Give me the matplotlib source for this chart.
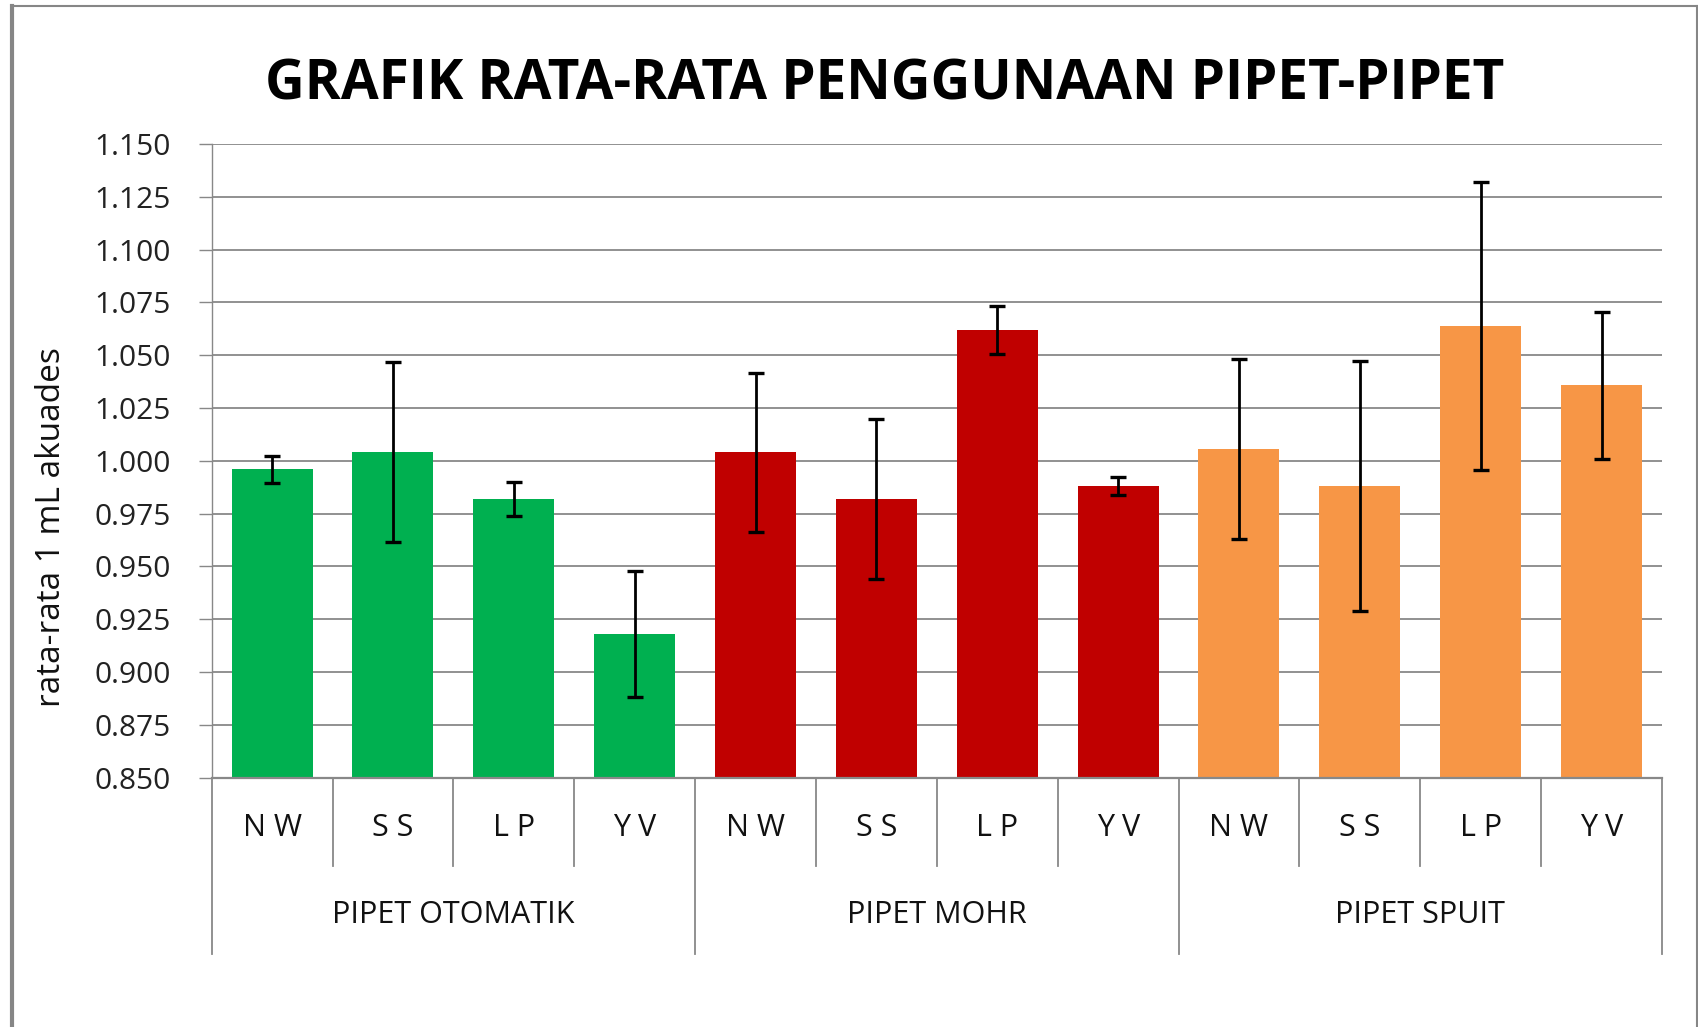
import matplotlib
matplotlib.use('Agg')
import matplotlib.pyplot as plt
from matplotlib.lines import Line2D
import numpy as np

groups = ['PIPET OTOMATIK', 'PIPET MOHR', 'PIPET SPUIT']
names = ['N W', 'S S', 'L P', 'Y V']
colors = ['#00B050', '#C00000', '#F79646']

otomatik = [0.996, 1.004, 0.982, 0.918]
otomatik_err = [0.0063, 0.0426, 0.008, 0.030]
mohr = [1.004, 0.982, 1.062, 0.988]
mohr_err = [0.0378, 0.038, 0.0114, 0.0042]
spuit = [1.0057, 0.988, 1.0638, 1.0359]
spuit_err = [0.0425, 0.0593, 0.068, 0.0348]

yticks = [0.850, 0.875, 0.900, 0.925, 0.950, 0.975, 1.000,
          1.025, 1.050, 1.075, 1.100, 1.125, 1.150]

plt.rcParams['font.family'] = ['Open Sans', 'DejaVu Sans']

fig = plt.figure(figsize=(16.99, 10.27), dpi=100)
ax = fig.add_axes([0.1246, 0.2427, 0.8536, 0.6171])

values = [otomatik, mohr, spuit]
errors = [otomatik_err, mohr_err, spuit_err]
n = len(names)
for g in range(len(groups)):
    x = np.arange(n) + g * n
    ax.bar(x, values[g], width=0.67, color=colors[g], zorder=2)
    ax.errorbar(x, values[g], yerr=errors[g], fmt='none', ecolor='black',
                elinewidth=2.0, capsize=5.5, capthick=2.4, zorder=3)

ax.set_xlim(-0.5, len(groups) * n - 0.5)
ax.set_ylim(0.850, 1.150)
ax.set_yticks(yticks)
ax.set_yticklabels(['%.3f' % t for t in yticks], fontsize=21.5, color='#222222')
ax.yaxis.grid(True, color='#888888', linewidth=1.3, zorder=0)
ax.set_axisbelow(True)
ax.tick_params(axis='y', direction='out', length=9.5, width=1.0, color='#888888', pad=20)
ax.tick_params(axis='x', bottom=False, labelbottom=False)

for s in ['top', 'right']:
    ax.spines[s].set_visible(False)
ax.spines['left'].set_color('#888888')
ax.spines['left'].set_linewidth(1.0)
ax.spines['bottom'].set_color('#888888')
ax.spines['bottom'].set_linewidth(1.6)

# two-level category axis
tr = ax.get_xaxis_transform()
for k in range(len(groups) * n + 1):
    y_end = -0.278 if k % n == 0 else -0.1393
    ax.plot([k - 0.5, k - 0.5], [0, y_end], transform=tr, color='#888888',
            linewidth=1.3, clip_on=False)
for g in range(len(groups)):
    for i, nm in enumerate(names):
        ax.text(g * n + i, -0.0794, nm, transform=tr, ha='center', va='center',
                fontsize=22, color='#111111')
    ax.text(g * n + (n - 1) / 2, -0.2167, groups[g], transform=tr, ha='center',
            va='center', fontsize=22, color='#111111')

fig.text(52 / 1699, 0.487, 'rata-rata 1 mL akuades', rotation=90, ha='center',
         va='center', fontsize=24, color='#111111')

fig.text(0.521, 0.917, 'GRAFIK RATA-RATA PENGGUNAAN PIPET-PIPET', ha='center',
         va='center', fontsize=39.5, fontweight='bold', color='black')

# outer chart frame
fig.add_artist(Line2D([12 / 1699, 12 / 1699], [0, 1 - 6 / 1027], color='#868686', linewidth=3))
fig.add_artist(Line2D([12 / 1699, 1697 / 1699], [1 - 6 / 1027, 1 - 6 / 1027], color='#868686', linewidth=1.5))
fig.add_artist(Line2D([1697 / 1699, 1697 / 1699], [0, 1 - 6 / 1027], color='#868686', linewidth=1.5))

fig.savefig('out.png', dpi=100)
